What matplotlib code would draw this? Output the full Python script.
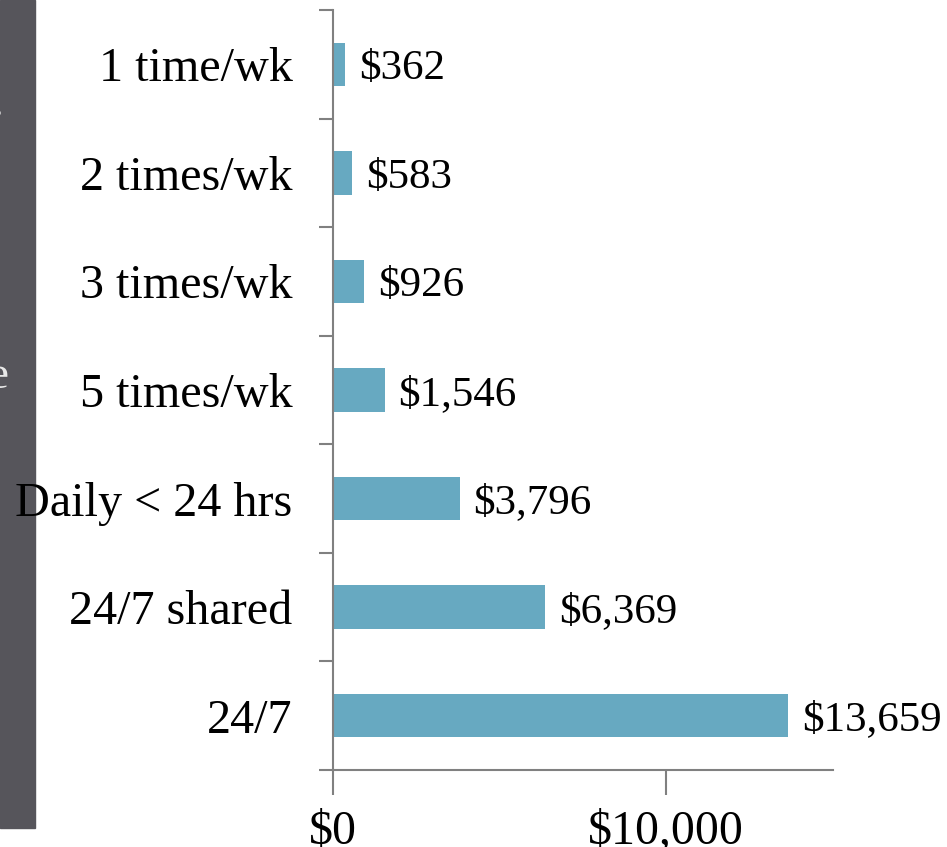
import matplotlib
matplotlib.use("Agg")
import matplotlib.pyplot as plt
from matplotlib.patches import Rectangle
import numpy as np

categories = ["1 time/wk", "2 times/wk", "3 times/wk", "5 times/wk",
              "Daily < 24 hrs", "24/7 shared", "24/7"]
values = [362, 583, 926, 1546, 3796, 6369, 13659]
value_labels = ["$362", "$583", "$926", "$1,546", "$3,796", "$6,369", "$13,659"]
x_ticks = [0, 10000]
x_tick_labels = ["$0", "$10,000"]

W, H = 947, 847
fig = plt.figure(figsize=(W / 100, H / 100), dpi=100)
plt.rcParams['font.family'] = ['Liberation Serif', 'DejaVu Serif']

# dark side panel from slide
fig.patches.append(Rectangle((0, (H - 828) / H), 35 / W, 828 / H,
                             transform=fig.transFigure, color="#56555B", zorder=-5))
fig.text(4 / W, 1 - 116 / H, ".", color="#E8E8E8", fontsize=34, ha="right", va="baseline", zorder=-4)
fig.text(8 / W, 1 - 388 / H, "e", color="#E8E8E8", fontsize=34, ha="right", va="baseline", zorder=-4)

left, right = 333 / W, 833 / W
top, bottom = 1 - 10 / H, 1 - 770 / H
ax = fig.add_axes([left, bottom, right - left, top - bottom])
ax.patch.set_alpha(0)
ax.set_zorder(2)

n = len(categories)
ypos = np.arange(n)
ax.barh(ypos, values, height=0.4, color="#67A9C1", zorder=2)
ax.set_ylim(n - 0.5, -0.5)
ax.set_xlim(0, 15000)

for y, v, lab in zip(ypos, values, value_labels):
    ax.annotate(lab, (v, y), xytext=(10, 0), textcoords="offset points",
                ha="left", va="center_baseline", fontsize=31, color="black")

ax.set_yticks(ypos)
ax.set_yticklabels(categories, fontsize=34.7)
ax.set_yticks(np.arange(-0.5, n + 0.5, 1), minor=True)
ax.tick_params(axis="y", which="major", length=0, pad=29)
ax.tick_params(axis="y", which="minor", length=10, width=1.5, color="#808080", direction="out")

ax.set_xticks(x_ticks)
ax.set_xticklabels(x_tick_labels, fontsize=34.5)
ax.tick_params(axis="x", which="major", length=18, width=1.5, color="#808080",
               direction="out", pad=10.5)

for s in ["top", "right"]:
    ax.spines[s].set_visible(False)
for s in ["left", "bottom"]:
    ax.spines[s].set_color("#808080")
    ax.spines[s].set_linewidth(1.5)

fig.savefig("out.png", dpi=100)
